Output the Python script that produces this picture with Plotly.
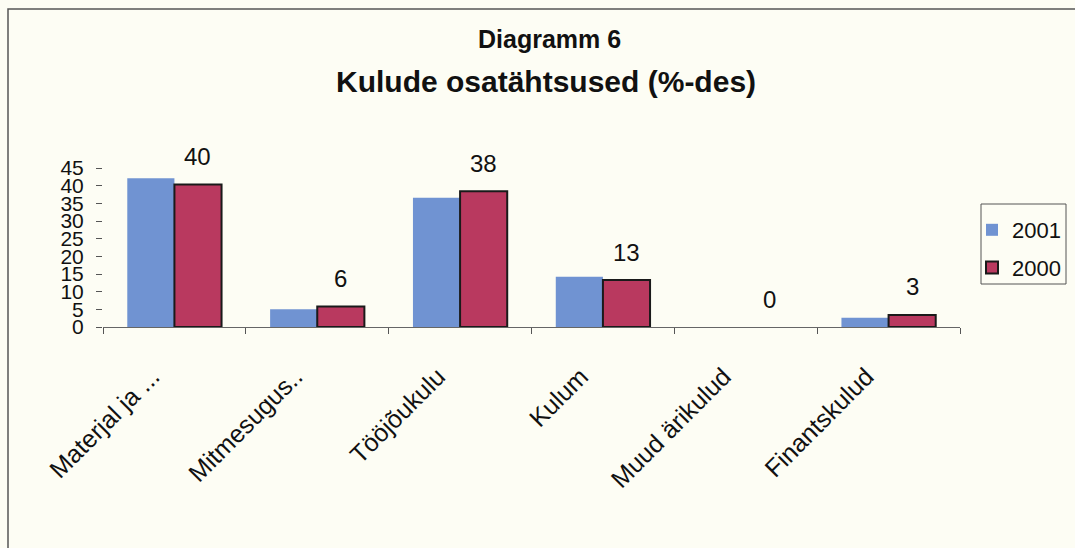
import plotly.graph_objects as go

categories = ["Materjal ja ...", "Mitmesugus..", "Tööjõukulu", "Kulum", "Muud ärikulud", "Finantskulud"]
series_2001 = [42.1, 5.0, 36.6, 14.2, 0.0, 2.6]
series_2000 = [40.3, 5.8, 38.4, 13.3, 0.0, 3.4]
labels_2000 = ["40", "6", "38", "13", "0", "3"]
y_ticks = [0, 5, 10, 15, 20, 25, 30, 35, 40, 45]

BG = "#fdfdf4"
BLUE = "#7093d2"
RED = "#b9395f"
FONT = "Liberation Sans, Arial"

W, H = 1075, 548
L, R = 103, 960
T, B = 168, 327
pw, ph = R - L, B - T

def px(x):
    return (x - L) / pw

def py(y):
    return (B - y) / ph

red_line_w = [2 if v > 0 else 0 for v in series_2000]

fig = go.Figure()
fig.add_trace(go.Bar(x=categories, y=series_2001, name="2001", legendgroup="a",
                     marker=dict(color=BLUE, line=dict(width=0))))
fig.add_trace(go.Bar(x=categories, y=series_2000, name="2000", legendgroup="b",
                     marker=dict(color=RED, line=dict(color="#1a1a1a", width=red_line_w))))

annotations = []
for i, (v, t) in enumerate(zip(series_2000, labels_2000)):
    annotations.append(dict(x=i + 0.165, y=v, xref="x", yref="y", text=t,
                            showarrow=False, yshift=28, yanchor="middle",
                            font=dict(family=FONT, size=24, color="#111")))

annotations.append(dict(x=px(549), y=py(38.5), xref="paper", yref="paper",
                        text="<b>Diagramm 6</b>", showarrow=False, yanchor="middle",
                        font=dict(family=FONT, size=25, color="#111")))
annotations.append(dict(x=px(546), y=py(81.5), xref="paper", yref="paper",
                        text="<b>Kulude osatähtsused (%-des)</b>", showarrow=False, yanchor="middle",
                        font=dict(family=FONT, size=30, color="#111")))

shapes = [
    dict(type="rect", xref="paper", yref="paper",
         x0=px(8), y0=py(9), x1=px(1090), y1=py(560),
         line=dict(color="#555", width=1.5), fillcolor="rgba(0,0,0,0)", layer="below"),
    dict(type="rect", xref="paper", yref="paper",
         x0=px(981), y0=py(204), x1=px(1066), y1=py(284),
         line=dict(color="#555", width=1), fillcolor="rgba(0,0,0,0)", layer="below"),
]

fig.update_layout(
    width=W, height=H,
    margin=dict(l=L, r=W - R, t=T, b=H - B, autoexpand=False),
    paper_bgcolor=BG, plot_bgcolor=BG,
    barmode="group", bargap=0.34, bargroupgap=0,
    showlegend=True,
    legend=dict(x=px(972), y=py(209), xanchor="left", yanchor="top",
                bgcolor="rgba(0,0,0,0)", borderwidth=0,
                font=dict(family=FONT, size=22, color="#111"),
                itemwidth=30, traceorder="grouped", tracegroupgap=6),
    annotations=annotations,
    shapes=shapes,
    font=dict(family=FONT, color="#111"),
)
fig.update_xaxes(
    type="category", showline=True, linecolor="#666", linewidth=1.2,
    ticks="outside", tickson="boundaries", ticklen=6, tickcolor="#555",
    tickangle=-45, ticklabelstandoff=24, ticklabelshift=-22,
    tickfont=dict(family=FONT, size=25, color="#111"),
    showgrid=False, zeroline=False,
)
fig.update_yaxes(
    range=[0, 45], tickvals=y_ticks, ticktext=[str(v) for v in y_ticks],
    showline=False, ticks="outside", ticklen=6, tickcolor="#555",
    tickfont=dict(family=FONT, size=21, color="#111"),
    showgrid=False, zeroline=False, ticklabelstandoff=8,
)

fig.write_html("out.html", config={"displayModeBar": False},
               post_script="document.body.style.margin='0';document.body.style.background='" + BG + "';")
